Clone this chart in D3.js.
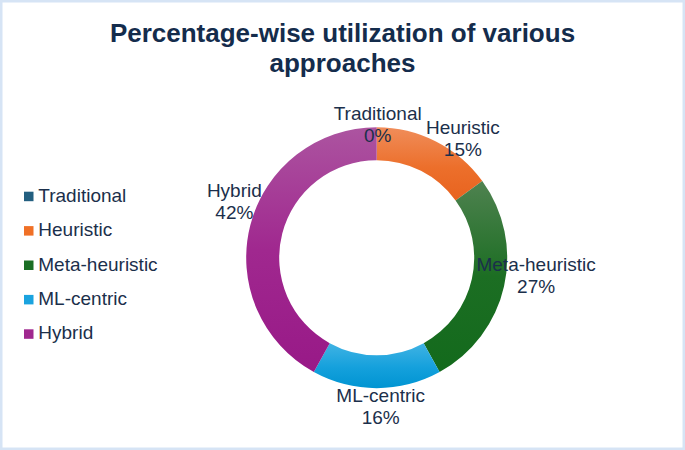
<!DOCTYPE html>
<html>
<head>
<meta charset="utf-8">
<script src="https://cdn.jsdelivr.net/npm/d3@7"></script>
<style>
  html, body { margin: 0; padding: 0; background: #ffffff; }
  svg { display: block; font-family: "Liberation Sans", Arial, sans-serif; }
</style>
</head>
<body>
<svg id="chart" width="685" height="450"></svg>
<script>
// ---- data ----
const categories = ["Traditional", "Heuristic", "Meta-heuristic", "ML-centric", "Hybrid"];
const values = [0, 15, 27, 16, 42];
const titleLines = ["Percentage-wise utilization of various", "approaches"];

// ---- styles / layout ----
const baseColors = ["#235f80", "#f07026", "#1a6e24", "#1aa3df", "#a0288f"];
const gradStops = [
  [["#2f6f92", 0], ["#235f80", 1]],
  [["#f08d5a", 0], ["#ec6f2b", 0.55], ["#e8631f", 1]],
  [["#4f8250", 0], ["#1c6e23", 0.5], ["#136a1c", 1]],
  [["#40b3e4", 0], ["#14a0dc", 0.55], ["#0094d2", 1]],
  [["#ac54a0", 0], ["#a0288f", 0.5], ["#981987", 1]]
];
const labelNudge = [[1, 10], [19, 8.5], [15, -19], [4, -3.4], [1, -23.6]];

const W = 685, H = 450;
const cx = 376.7, cy = 257.7, rOuter = 130.5, rInner = 97.5, rLabel = 148;
const textColor = "#1b2f4b";

const svg = d3.select("#chart");

// border
svg.append("rect")
  .attr("x", 1.25).attr("y", 1.25)
  .attr("width", W - 2.5).attr("height", H - 2.5)
  .attr("fill", "#ffffff")
  .attr("stroke", "#d6e4f5").attr("stroke-width", 2.5);

// title
const title = svg.append("text")
  .attr("x", W / 2).attr("text-anchor", "middle")
  .attr("font-size", 26).attr("font-weight", "bold")
  .attr("fill", "#142c4c");
titleLines.forEach((t, i) => {
  title.append("tspan").attr("x", W / 2).attr("y", 42 + i * 29.5).text(t);
});

// gradients
const defs = svg.append("defs");
categories.forEach((c, i) => {
  const g = defs.append("linearGradient")
    .attr("id", "grad" + i)
    .attr("x1", 0).attr("y1", 0).attr("x2", 0).attr("y2", 1);
  gradStops[i].forEach(([col, off]) => {
    g.append("stop").attr("offset", off).attr("stop-color", col);
  });
});

const data = categories.map((c, i) => ({ name: c, value: values[i], idx: i }));
const pie = d3.pie().sort(null).value(d => d.value);
const arcs = pie(data);
const arc = d3.arc().innerRadius(rInner).outerRadius(rOuter);
const labelArc = d3.arc().innerRadius(rLabel).outerRadius(rLabel);

const g = svg.append("g").attr("transform", `translate(${cx},${cy})`);
g.selectAll("path.slice")
  .data(arcs.filter(d => d.data.value > 0))
  .enter().append("path")
  .attr("class", "slice")
  .attr("d", arc)
  .attr("fill", d => `url(#grad${d.data.idx})`);

// data labels
const labels = g.selectAll("text.lbl")
  .data(arcs)
  .enter().append("text")
  .attr("class", "lbl")
  .attr("text-anchor", "middle")
  .attr("font-size", 19)
  .attr("fill", textColor)
  .each(function(d) {
    const [x, y] = labelArc.centroid(d);
    const n = labelNudge[d.data.idx];
    const t = d3.select(this);
    t.append("tspan").attr("x", x + n[0]).attr("y", y + n[1]).text(d.data.name);
    t.append("tspan").attr("x", x + n[0]).attr("y", y + n[1] + 22)
      .text(Math.round(d.data.value) + "%");
  });

// legend
const legend = svg.append("g").attr("transform", "translate(24,201.7)");
categories.forEach((c, i) => {
  const row = legend.append("g").attr("transform", `translate(0,${i * 34.4})`);
  row.append("rect").attr("x", 0).attr("y", -10).attr("width", 9.5).attr("height", 9.5)
    .attr("fill", baseColors[i]);
  row.append("text").attr("x", 14.3).attr("y", 0)
    .attr("font-size", 19).attr("fill", textColor).text(c);
});
</script>
</body>
</html>
